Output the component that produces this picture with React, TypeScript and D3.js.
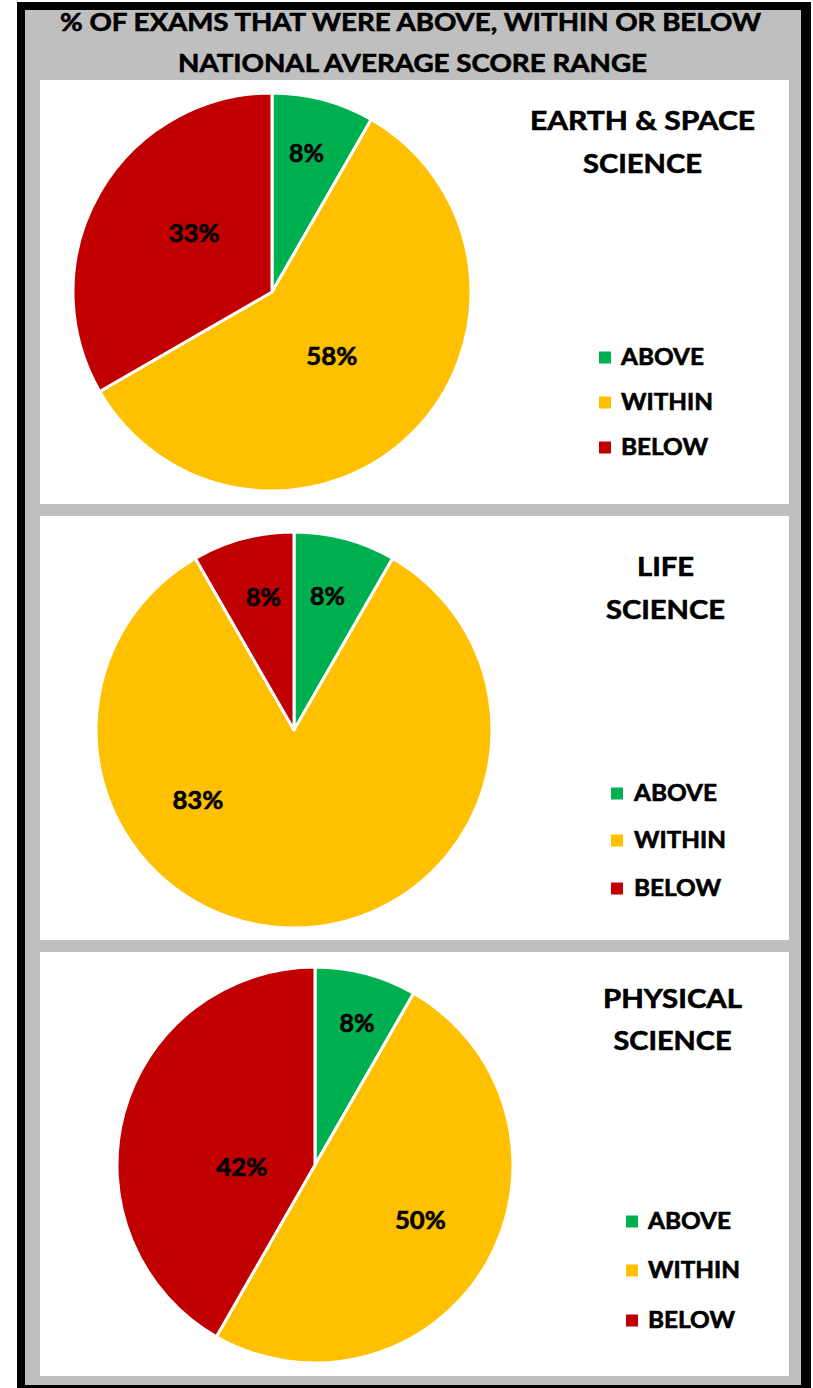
import React from "react";
import * as d3 from "d3";

const categories = ["ABOVE", "WITHIN", "BELOW"];
const colors = ["#00B050", "#FFC000", "#C00000"];
const earthSpaceValues = [8.3, 58.3, 33.3];
const lifeValues = [8.3, 83.3, 8.3];
const physicalValues = [8.3, 50, 41.7];
const chartTitle = ["% OF EXAMS THAT WERE ABOVE, WITHIN OR BELOW", "NATIONAL AVERAGE SCORE RANGE"];
const panelTitles = [["EARTH & SPACE", "SCIENCE"], ["LIFE", "SCIENCE"], ["PHYSICAL", "SCIENCE"]];

// layout (not data)
const panels = [
  {
    values: earthSpaceValues, top: 80, cx: 272, cy: 292, r: 199,
    titleX: 642.5, titleY: [130, 173], titleLen: [225, 119],
    markerX: 599, textX: 621, legendY: [365, 410, 455],
    lab: [{ f: 0.72, da: -1 }, { f: 0.44, da: 2 }, { f: 0.49, da: 7 }],
  },
  {
    values: lifeValues, top: 516, cx: 294, cy: 730, r: 198,
    titleX: 665.5, titleY: [576, 619], titleLen: [57, 119],
    markerX: 611, textX: 634, legendY: [801, 848, 896],
    lab: [{ f: 0.7, da: -1 }, { f: 0.6, da: 54 }, { f: 0.69, da: 2 }],
  },
  {
    values: physicalValues, top: 952, cx: 315, cy: 1165, r: 198,
    titleX: 672.5, titleY: [1008, 1050], titleLen: [139, 118],
    markerX: 626, textX: 648, legendY: [1229, 1278, 1328],
    lab: [{ f: 0.75, da: 1.5 }, { f: 0.6, da: -2.4 }, { f: 0.37, da: -16.6 }],
  },
];
const legendLens = [83, 92, 87];
const FONT = "Lato, 'Open Sans', sans-serif";
const thick = { stroke: "#000", strokeWidth: 0.6, paintOrder: "stroke" as const };

function Panel({ p, idx }: { p: any; idx: number }) {
  const pie = d3.pie<number>().sort(null).startAngle(0).endAngle(2 * Math.PI);
  const arcs = pie(p.values);
  const arc = d3.arc<d3.PieArcDatum<number>>().innerRadius(0).outerRadius(p.r);
  const total = d3.sum(p.values);
  return (
    <g>
      <rect x={40} y={p.top} width={749} height={424} fill="#ffffff" />
      <g transform={`translate(${p.cx},${p.cy})`}>
        {arcs.map((a, i) => (
          <path key={i} d={arc(a) || ""} fill={colors[i]} stroke="#ffffff" strokeWidth={3} strokeLinejoin="round" />
        ))}
        {arcs.map((a, i) => {
          const mid = (a.startAngle + a.endAngle) / 2 + (p.lab[i].da * Math.PI) / 180;
          const rr = p.r * p.lab[i].f;
          const x = Math.sin(mid) * rr;
          const y = -Math.cos(mid) * rr;
          const pct = Math.round((a.data / total) * 100) + "%";
          return (
            <text key={i} x={x} y={y} dy="0.36em" textAnchor="middle" fontFamily={FONT}
              fontWeight={700} fontSize={25} fill="#000" {...thick}
              textLength={pct.length === 2 ? 35 : 51} lengthAdjust="spacingAndGlyphs">
              {pct}
            </text>
          );
        })}
      </g>
      {panelTitles[idx].map((t, i) => (
        <text key={i} x={p.titleX} y={p.titleY[i]} textAnchor="middle" fontFamily={FONT}
          fontWeight={700} fontSize={27} fill="#000" {...thick} textLength={p.titleLen[i]} lengthAdjust="spacingAndGlyphs">
          {t}
        </text>
      ))}
      {categories.map((c, i) => (
        <g key={c}>
          <rect x={p.markerX} y={p.legendY[i] - 13.5} width={12} height={12} fill={colors[i]} />
          <text x={p.textX} y={p.legendY[i]} fontFamily={FONT} fontWeight={700} fontSize={22} fill="#000" {...thick}
            textLength={legendLens[i]} lengthAdjust="spacingAndGlyphs">
            {c}
          </text>
        </g>
      ))}
    </g>
  );
}

export default function App() {
  return (
    <svg width={813} height={1388} style={{ position: "absolute", left: 0, top: 0, background: "#fff" }}>
      <rect x={0} y={0} width={813} height={1388} fill="#ffffff" />
      <rect x={17} y={2} width={794} height={1386} fill="#000000" />
      <rect x={25} y={10} width={776} height={1375} fill="#BFBFBF" />
      <text x={410.5} y={31} textAnchor="middle" fontFamily={FONT} fontWeight={700} fontSize={25} fill="#000" {...thick}
        textLength={701} lengthAdjust="spacingAndGlyphs">{chartTitle[0]}</text>
      <text x={412.5} y={72} textAnchor="middle" fontFamily={FONT} fontWeight={700} fontSize={25} fill="#000" {...thick}
        textLength={469} lengthAdjust="spacingAndGlyphs">{chartTitle[1]}</text>
      {panels.map((p, i) => (
        <Panel key={i} p={p} idx={i} />
      ))}
    </svg>
  );
}
